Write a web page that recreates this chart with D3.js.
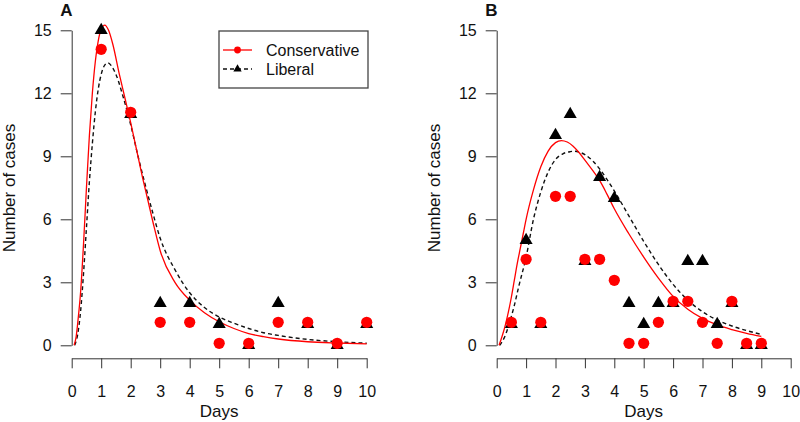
<!DOCTYPE html>
<html>
<head>
<meta charset="utf-8">
<script src="https://cdn.jsdelivr.net/npm/d3@7"></script>
<style>
  html, body { margin: 0; padding: 0; background: #fff; }
  svg { display: block; font-family: Arial, "Liberation Sans", sans-serif; }
</style>
</head>
<body>
<svg id="chart" width="800" height="422"></svg>
<script>
// ---------- Data ----------
const xTicks = [0, 1, 2, 3, 4, 5, 6, 7, 8, 9, 10];
const yTicks = [0, 3, 6, 9, 12, 15];

// Panel A observations
const daysA = [1, 2, 3, 4, 5, 6, 7, 8, 9, 10];
const conservativeA = [14, 11, 1, 1, 0, 0, 1, 1, 0, 1];
const liberalA = [15, 11, 2, 2, 1, 0, 2, 1, 0, 1];

// Panel A fitted curves
const fitDaysConsA = [0.08, 0.15, 0.2, 0.25, 0.3, 0.4, 0.5, 0.6, 0.7, 0.8, 0.9, 1.0, 1.12, 1.25, 1.4, 1.6, 1.8, 2.0, 2.2, 2.4, 2.6, 2.8, 3.0, 3.5, 4.0, 4.5, 5.0, 5.5, 6.0, 6.5, 7.0, 8.0, 9.0, 10.0];
const fitConsA     = [0, 0.4, 1.0, 1.7, 2.5, 4.8, 7.5, 10.0, 12.0, 13.5, 14.5, 15.05, 15.25, 15.0, 14.3, 13.0, 11.8, 10.6, 9.3, 8.0, 6.8, 5.6, 4.5, 3.0, 2.15, 1.55, 1.12, 0.8, 0.56, 0.41, 0.3, 0.17, 0.11, 0.07];
const fitDaysLibA  = [0.1, 0.2, 0.3, 0.4, 0.5, 0.6, 0.7, 0.8, 0.9, 1.0, 1.1, 1.22, 1.35, 1.5, 1.75, 2.0, 2.25, 2.5, 2.75, 3.0, 3.5, 4.0, 4.5, 5.0, 5.5, 6.0, 6.5, 7.0, 8.0, 9.0, 10.0];
const fitLibA      = [0, 0.5, 1.6, 3.4, 5.6, 7.8, 9.6, 11.1, 12.2, 12.9, 13.3, 13.45, 13.3, 12.9, 11.8, 10.5, 9.0, 7.6, 6.3, 5.1, 3.6, 2.5, 1.8, 1.35, 1.05, 0.8, 0.6, 0.47, 0.28, 0.17, 0.1];

// Panel B observations
const daysB = [0.5, 1, 1.5, 2, 2.5, 3, 3.5, 4, 4.5, 5, 5.5, 6, 6.5, 7, 7.5, 8, 8.5, 9];
const conservativeB = [1, 4, 1, 7, 7, 4, 4, 3, 0, 0, 1, 2, 2, 1, 0, 2, 0, 0];
const liberalB = [1, 5, 1, 10, 11, 4, 8, 7, 2, 1, 2, 2, 4, 4, 1, 2, 0, 0];

// Panel B fitted curves
const fitDaysConsB = [0.08, 0.2, 0.3, 0.4, 0.5, 0.6, 0.7, 0.8, 0.9, 1.0, 1.25, 1.5, 1.75, 2.0, 2.2, 2.4, 2.6, 2.8, 3.0, 3.25, 3.5, 3.75, 4.0, 4.5, 5.0, 5.5, 6.0, 6.5, 7.0, 7.5, 8.0, 8.5, 9.0];
const fitConsB     = [0, 0.5, 1.0, 1.6, 2.3, 3.1, 3.9, 4.6, 5.3, 6.0, 7.4, 8.5, 9.25, 9.65, 9.75, 9.68, 9.48, 9.18, 8.82, 8.35, 7.85, 7.2, 6.5, 5.3, 4.2, 3.2, 2.33, 1.72, 1.28, 0.97, 0.75, 0.57, 0.42];
const fitDaysLibB  = [0.1, 0.3, 0.44, 0.6, 0.75, 1.0, 1.25, 1.5, 1.75, 2.0, 2.25, 2.5, 2.65, 2.85, 3.0, 3.25, 3.5, 3.75, 4.0, 4.5, 5.0, 5.5, 6.0, 6.5, 7.0, 7.5, 8.0, 8.5, 9.0];
const fitLibB      = [0, 0.5, 1.1, 1.9, 2.8, 4.2, 6.0, 7.3, 8.25, 8.85, 9.12, 9.22, 9.24, 9.18, 9.08, 8.8, 8.4, 7.9, 7.35, 6.15, 4.95, 3.85, 2.9, 2.15, 1.6, 1.2, 0.92, 0.7, 0.52];

const seriesNames = ["Conservative", "Liberal"];

// ---------- Drawing ----------
const svg = d3.select("#chart");
const RED = "#ff0000";

const zip = (xs, ys) => xs.map((x, i) => [x, ys[i]]);

function panel(opts) {
  const x = d3.scaleLinear().domain([0, 10]).range([opts.x0, opts.x1]);
  const y = d3.scaleLinear().domain([0, 15]).range([345.3, 30.3]);
  const g = svg.append("g");

  // y axis
  const yAxis = g.append("g")
    .attr("transform", `translate(${opts.x0},0)`)
    .call(d3.axisLeft(y).tickValues(yTicks).tickSize(11).tickSizeOuter(0).tickPadding(9));
  // x axis
  const xAxis = g.append("g")
    .attr("transform", `translate(0,358.3)`)
    .call(d3.axisBottom(x).tickValues(xTicks).tickSize(10).tickSizeOuter(0).tickPadding(17));
  [yAxis, xAxis].forEach(a => {
    a.selectAll("path, line").attr("stroke", "#333").attr("stroke-width", 1);
    a.selectAll("text").attr("fill", "#111").style("font-size", "16px").style("font-family", "Arial, 'Liberation Sans', sans-serif");
  });

  // axis titles
  g.append("text")
    .attr("x", (opts.x0 + opts.x1) / 2).attr("y", 417)
    .attr("text-anchor", "middle").attr("fill", "#111")
    .style("font-size", "17px").text("Days");
  g.append("text")
    .attr("transform", `translate(${opts.x0 - 56.5},188) rotate(-90)`)
    .attr("text-anchor", "middle").attr("fill", "#111")
    .style("font-size", "17px").text("Number of cases");

  // panel letter
  g.append("text")
    .attr("x", opts.x0 - 11.5).attr("y", 15.5)
    .attr("fill", "#111").style("font-size", "17px").style("font-weight", "bold")
    .text(opts.letter);

  const line = d3.line().x(d => x(d[0])).y(d => y(d[1])).curve(d3.curveMonotoneX);

  // fitted curves
  g.append("path").datum(zip(opts.fitDaysLib, opts.fitLib))
    .attr("d", line).attr("fill", "none").attr("stroke", "#111")
    .attr("stroke-width", 1.4).attr("stroke-dasharray", "4,3");
  g.append("path").datum(zip(opts.fitDaysCons, opts.fitCons))
    .attr("d", line).attr("fill", "none").attr("stroke", RED)
    .attr("stroke-width", 1.3);

  // observed points: liberal triangles, conservative circles
  const tri = d3.symbol().type(d3.symbolTriangle).size(74);
  g.selectAll(".tri").data(zip(opts.days, opts.lib)).enter().append("path")
    .attr("d", tri)
    .attr("transform", d => `translate(${x(d[0])},${y(d[1])})`)
    .attr("fill", "#000");
  g.selectAll(".circ").data(zip(opts.days, opts.cons)).enter().append("circle")
    .attr("cx", d => x(d[0])).attr("cy", d => y(d[1]) - 2)
    .attr("r", 5.6).attr("fill", RED);

  return { x, y, g };
}

panel({
  letter: "A", x0: 71.7, x1: 366.7,
  days: daysA, cons: conservativeA, lib: liberalA,
  fitDaysCons: fitDaysConsA, fitCons: fitConsA,
  fitDaysLib: fitDaysLibA, fitLib: fitLibA
});
panel({
  letter: "B", x0: 496.7, x1: 790.7,
  days: daysB, cons: conservativeB, lib: liberalB,
  fitDaysCons: fitDaysConsB, fitCons: fitConsB,
  fitDaysLib: fitDaysLibB, fitLib: fitLibB
});

// legend (panel A)
const lg = svg.append("g");
lg.append("rect").attr("x", 219).attr("y", 31).attr("width", 149).attr("height", 57)
  .attr("fill", "#fff").attr("stroke", "#444").attr("stroke-width", 1.3);
const legendRows = [
  { name: seriesNames[0], y: 50, color: RED, dash: null, shape: "circle" },
  { name: seriesNames[1], y: 69, color: "#111", dash: "4,3", shape: "triangle" }
];
legendRows.forEach(r => {
  lg.append("line").attr("x1", 223).attr("x2", 252).attr("y1", r.y).attr("y2", r.y)
    .attr("stroke", r.color).attr("stroke-width", 1.3)
    .attr("stroke-dasharray", r.dash);
  if (r.shape === "circle") {
    lg.append("circle").attr("cx", 237.5).attr("cy", r.y).attr("r", 3.4).attr("fill", RED);
  } else {
    lg.append("path").attr("d", d3.symbol().type(d3.symbolTriangle).size(30))
      .attr("transform", `translate(237.5,${r.y})`).attr("fill", "#000");
  }
  lg.append("text").attr("x", 266).attr("y", r.y + 6).attr("fill", "#111")
    .style("font-size", "16px").text(r.name);
});
</script>
</body>
</html>
